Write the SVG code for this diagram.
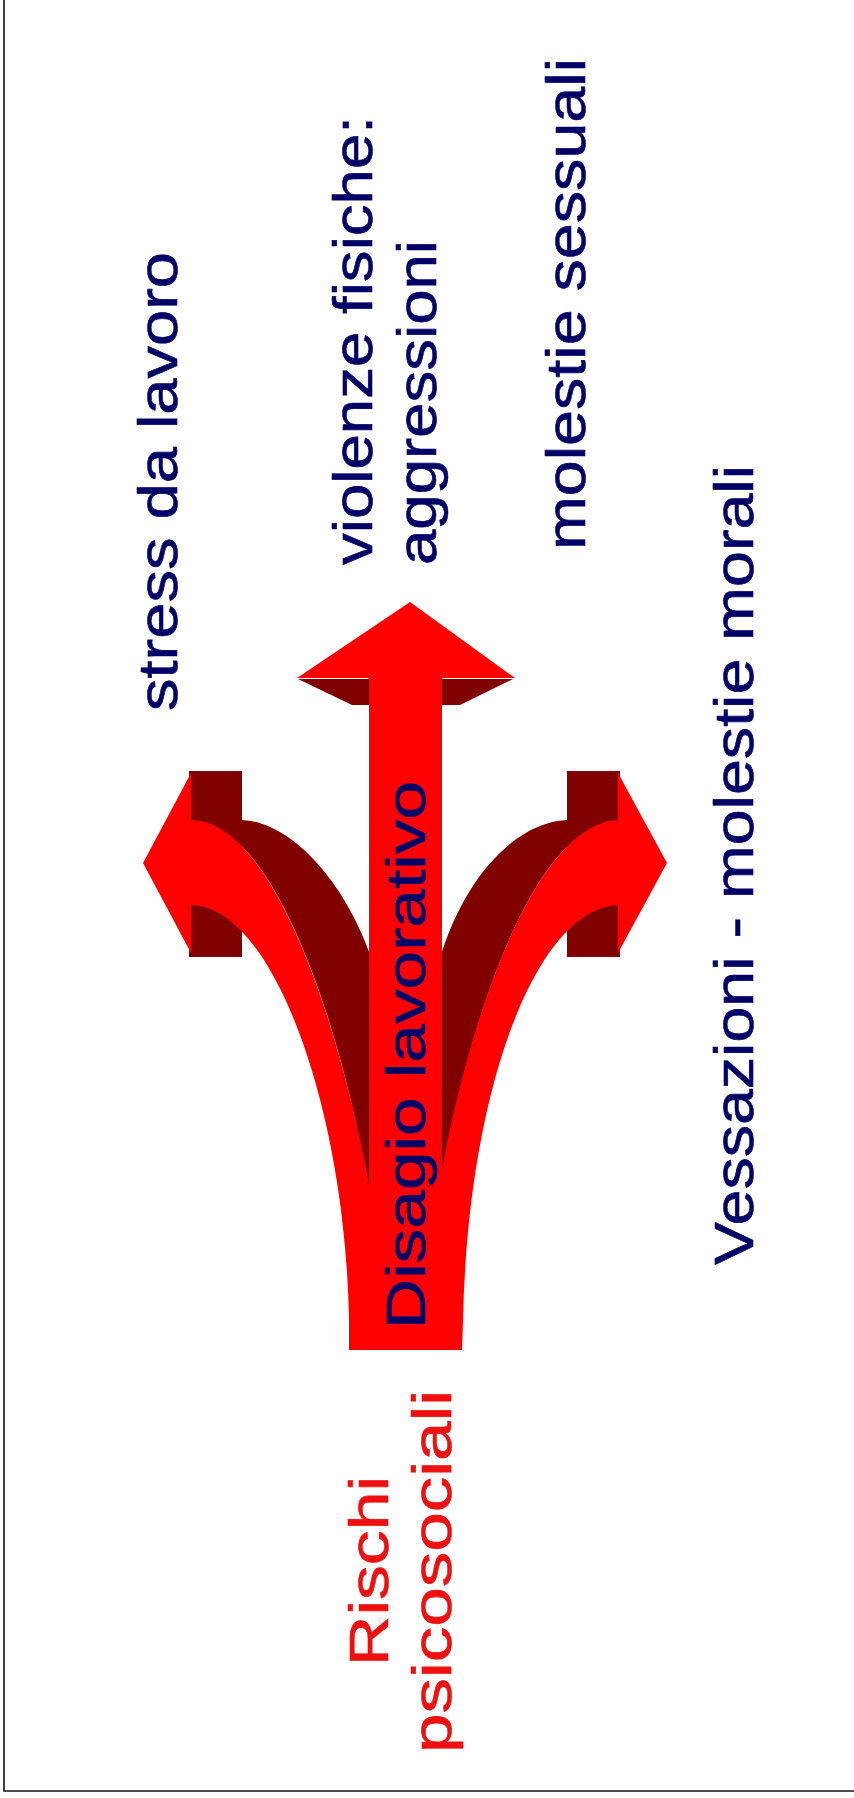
<svg xmlns="http://www.w3.org/2000/svg" width="854" height="1798" viewBox="0 0 854 1798">
<style>
.t{font-family:"Liberation Sans",Arial,sans-serif;font-size:55px;fill:#000066;stroke:#000066;stroke-width:0.6}
.r{fill:#ee1010;stroke:#ee1010}
.red{fill:#ff0000}
.dark{fill:#800000}
</style>
<rect x="0" y="0" width="854" height="1798" fill="#ffffff"/>
<path d="M4,0 V1791 H854" fill="none" stroke="#111" stroke-width="1.6"/>
<g id="connectors">
  <path class="dark" d="M191,820 L242,820 C290,822 345,880 372,960 L372,1185 L368,1185 C338,1010 270,820 191,820 Z"/>
  <path class="dark" d="M620,820 L567,820 C520,822 467,870 440,958 L440,1178 L442,1178 C472,1000 541,820 620,820 Z"/>
  <rect class="dark" x="189" y="771" width="53" height="186"/>
  <rect class="dark" x="567" y="771" width="53" height="186"/>
  <polygon class="dark" points="298,679 369,679 369,705 352,705"/>
  <polygon class="dark" points="442,679 513,679 460,705 442,705"/>
  <rect class="red" x="369" y="670" width="73" height="680"/>
  <path class="red" d="M191,820 C270,820 338,1010 372,1200 L372,1350 L349,1350 L349,1320 C345,1100 270,905 191,905 Z"/>
  <path class="red" d="M620,820 C541,820 472,1000 440,1180 L440,1350 L462,1350 L463,1320 C468,1080 540,905 620,905 Z"/>
  <polygon class="red" points="191,773 143,863 191,953"/>
  <polygon class="red" points="618,773 667,863 618,953"/>
  <polygon class="red" points="297,678 410,602 515,678"/>
</g>
<g id="node-disagio"><text class="t" transform="translate(425,1329) rotate(-90)" textLength="548" lengthAdjust="spacingAndGlyphs">Disagio lavorativo</text></g>
<g id="node-stress"><text class="t" transform="translate(177,711) rotate(-90)" textLength="459" lengthAdjust="spacingAndGlyphs">stress da lavoro</text></g>
<g id="node-violenze"><text class="t" transform="translate(372,565) rotate(-90)" textLength="449" lengthAdjust="spacingAndGlyphs">violenze fisiche:</text><text class="t" transform="translate(436,565) rotate(-90)" textLength="325" lengthAdjust="spacingAndGlyphs">aggressioni</text></g>
<g id="node-molestie"><text class="t" transform="translate(585,550) rotate(-90)" textLength="492" lengthAdjust="spacingAndGlyphs">molestie sessuali</text></g>
<g id="node-vessazioni"><text class="t" transform="translate(753,1265) rotate(-90)" textLength="800" lengthAdjust="spacingAndGlyphs">Vessazioni - molestie morali</text></g>
<g id="node-rischi"><text class="t r" transform="translate(388,1666) rotate(-90)" textLength="190" lengthAdjust="spacingAndGlyphs">Rischi</text><text class="t r" transform="translate(451,1753) rotate(-90)" textLength="363" lengthAdjust="spacingAndGlyphs">psicosociali</text></g>
</svg>
